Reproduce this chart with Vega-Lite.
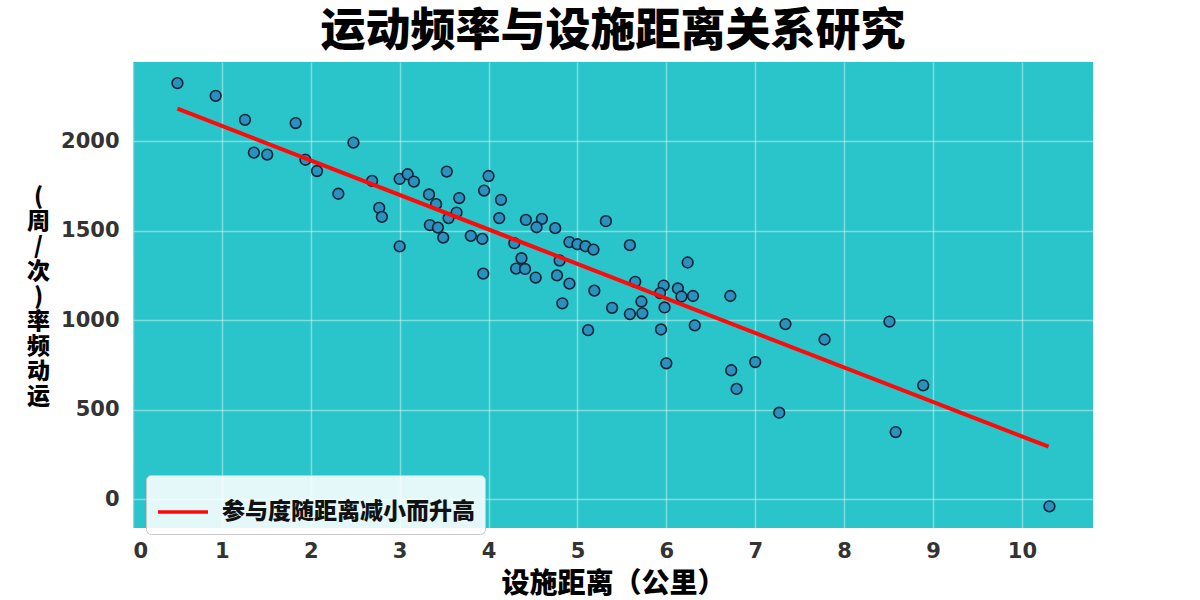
{
  "$schema": "https://vega.github.io/schema/vega-lite/v6.json",
  "width": 960,
  "height": 466,
  "autosize": {"type": "none"},
  "padding": {"left": 133, "top": 62, "right": 107, "bottom": 72},
  "background": "#ffffff",
  "title": {
    "text": "运动频率与设施距离关系研究",
    "font": "Noto Sans CJK SC",
    "fontSize": 45,
    "fontWeight": 900,
    "color": "#000000",
    "anchor": "middle",
    "frame": "group",
    "baseline": "alphabetic",
    "offset": 14,
    "dy": 43
  },
  "config": {
    "view": {"fill": "#2ac5ca", "stroke": null},
    "axis": {
      "grid": true,
      "gridColor": "#ffffff",
      "gridOpacity": 0.4,
      "gridWidth": 1.5,
      "domain": false,
      "ticks": false,
      "labelFont": "DejaVu Sans",
      "labelFontWeight": "bold",
      "labelFontSize": 21,
      "labelColor": "#333333",
      "titleFont": "Noto Sans CJK SC",
      "titleFontWeight": 900,
      "titleColor": "#000000"
    }
  },
  "datasets": {
    "pts": [
      {"x": 0.50, "y": 2325}, {"x": 0.93, "y": 2254}, {"x": 1.26, "y": 2120}, {"x": 1.83, "y": 2102},
      {"x": 1.36, "y": 1937}, {"x": 1.51, "y": 1926}, {"x": 1.94, "y": 1897}, {"x": 2.07, "y": 1834},
      {"x": 2.48, "y": 1993}, {"x": 2.31, "y": 1707}, {"x": 2.69, "y": 1779}, {"x": 2.77, "y": 1628},
      {"x": 2.80, "y": 1578}, {"x": 3.00, "y": 1413}, {"x": 3.00, "y": 1790}, {"x": 3.09, "y": 1816},
      {"x": 3.16, "y": 1775}, {"x": 3.33, "y": 1703}, {"x": 3.41, "y": 1649}, {"x": 3.53, "y": 1831},
      {"x": 3.55, "y": 1571}, {"x": 3.34, "y": 1532}, {"x": 3.43, "y": 1518}, {"x": 3.49, "y": 1462},
      {"x": 3.67, "y": 1683}, {"x": 3.64, "y": 1602}, {"x": 4.00, "y": 1806}, {"x": 3.95, "y": 1725},
      {"x": 4.14, "y": 1673}, {"x": 4.12, "y": 1571}, {"x": 3.80, "y": 1472}, {"x": 3.93, "y": 1455},
      {"x": 4.42, "y": 1561}, {"x": 4.60, "y": 1567}, {"x": 4.54, "y": 1520}, {"x": 4.75, "y": 1515},
      {"x": 4.29, "y": 1431}, {"x": 4.91, "y": 1437}, {"x": 5.00, "y": 1425}, {"x": 5.09, "y": 1414},
      {"x": 5.18, "y": 1395}, {"x": 5.32, "y": 1554}, {"x": 5.59, "y": 1420}, {"x": 6.24, "y": 1323},
      {"x": 4.37, "y": 1347}, {"x": 4.31, "y": 1289}, {"x": 4.41, "y": 1287}, {"x": 4.80, "y": 1334},
      {"x": 3.94, "y": 1261}, {"x": 4.53, "y": 1239}, {"x": 4.77, "y": 1251}, {"x": 4.91, "y": 1205},
      {"x": 5.19, "y": 1166}, {"x": 5.65, "y": 1215}, {"x": 5.97, "y": 1194}, {"x": 6.13, "y": 1178},
      {"x": 6.17, "y": 1133}, {"x": 6.30, "y": 1136}, {"x": 5.93, "y": 1152}, {"x": 5.72, "y": 1105},
      {"x": 5.98, "y": 1072}, {"x": 5.39, "y": 1070}, {"x": 5.59, "y": 1035}, {"x": 5.73, "y": 1039},
      {"x": 4.83, "y": 1095}, {"x": 6.32, "y": 972}, {"x": 5.12, "y": 945}, {"x": 5.94, "y": 949},
      {"x": 6.00, "y": 760}, {"x": 6.72, "y": 1136}, {"x": 7.34, "y": 979}, {"x": 7.78, "y": 893},
      {"x": 8.51, "y": 993}, {"x": 7.00, "y": 767}, {"x": 6.73, "y": 721}, {"x": 6.79, "y": 617},
      {"x": 7.27, "y": 484}, {"x": 8.89, "y": 637}, {"x": 8.58, "y": 376}, {"x": 10.31, "y": -39}
    ],
    "fit": [
      {"x": 0.5, "y": 2182, "s": "参与度随距离减小而升高"},
      {"x": 10.3, "y": 294, "s": "参与度随距离减小而升高"}
    ]
  },
  "layer": [
    {
      "data": {"name": "pts"},
      "mark": {"type": "circle", "size": 115, "fill": "#2a8dbd", "fillOpacity": 0.95, "stroke": "#0f2535", "strokeWidth": 1.6},
      "encoding": {
        "x": {
          "field": "x", "type": "quantitative",
          "scale": {"domain": [0, 10.8], "nice": false, "zero": false},
          "axis": {
            "values": [0, 1, 2, 3, 4, 5, 6, 7, 8, 9, 10],
            "format": "d",
            "labelPadding": 12,
            "title": "设施距离（公里）",
            "titleFontSize": 28,
            "titlePadding": 9
          }
        },
        "y": {
          "field": "y", "type": "quantitative",
          "scale": {"domain": [-160, 2443], "nice": false, "zero": false},
          "axis": {
            "values": [0, 500, 1000, 1500, 2000],
            "format": "d",
            "labelPadding": 14,
            "title": ["(", "周", "/", "次", ")", "率", "频", "动", "运"],
            "titleAngle": 0,
            "titleFontSize": 23,
            "titleLineHeight": 25,
            "titleAlign": "center",
            "titleBaseline": "top",
            "titleX": -95,
            "titleY": 123
          }
        }
      }
    },
    {
      "data": {"name": "fit"},
      "mark": {"type": "line", "strokeWidth": 4},
      "encoding": {
        "x": {"field": "x", "type": "quantitative"},
        "y": {"field": "y", "type": "quantitative"},
        "color": {
          "field": "s", "type": "nominal",
          "scale": {"domain": ["参与度随距离减小而升高"], "range": ["#ff0a0a"]},
          "legend": {
            "title": null,
            "orient": "none",
            "legendX": 13,
            "legendY": 413,
            "symbolType": "stroke",
            "symbolSize": 2500,
            "symbolStrokeWidth": 3.5,
            "labelFont": "Noto Sans CJK SC",
            "labelFontWeight": 900,
            "labelFontSize": 23,
            "labelColor": "#111111",
            "labelOffset": 12,
            "labelLimit": 400,
            "padding": 10,
            "fillColor": "rgba(255,255,255,0.88)",
            "strokeColor": "#c8c8c8",
            "cornerRadius": 5
          }
        }
      }
    }
  ]
}
